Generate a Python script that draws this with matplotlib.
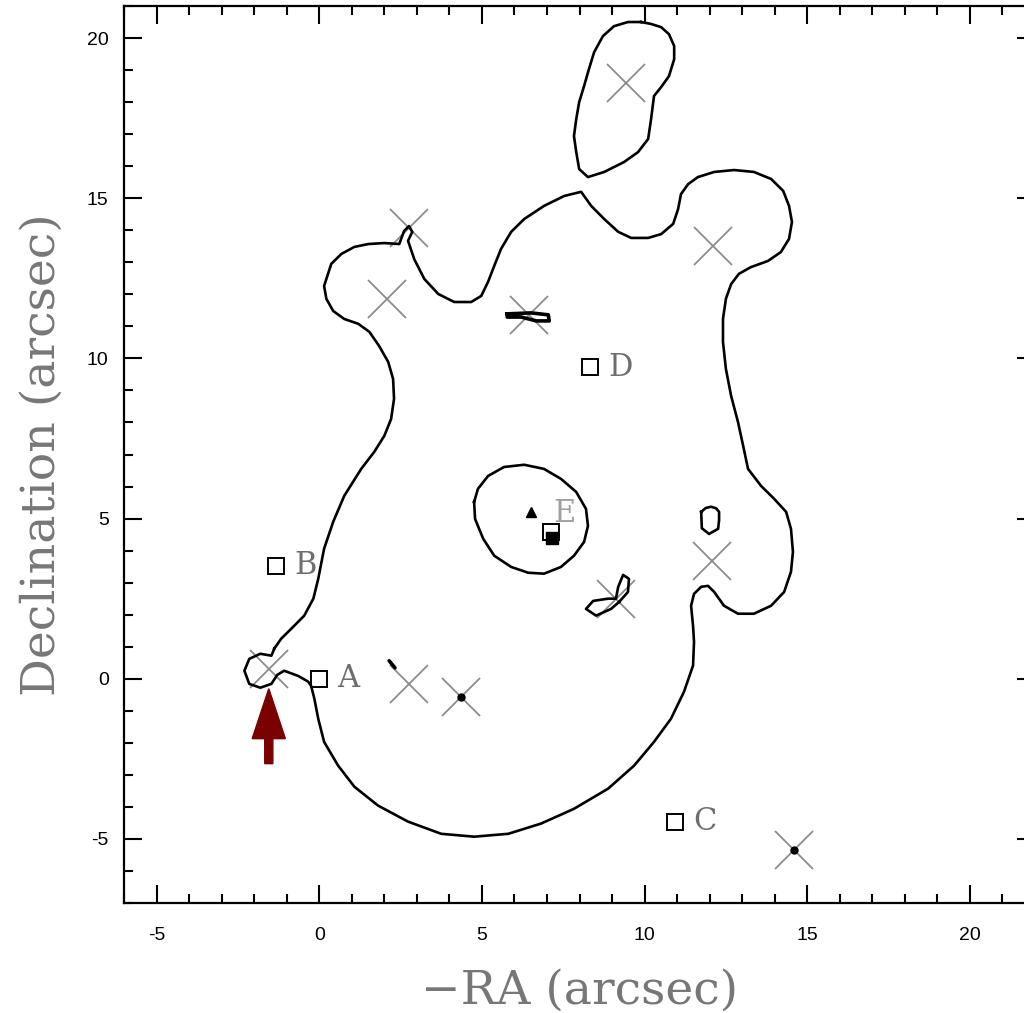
import numpy as np
import matplotlib
matplotlib.use('Agg')
import matplotlib.pyplot as plt
from matplotlib.ticker import MultipleLocator

plt.rcParams['axes.unicode_minus'] = False

# outer contour (arcsec), traced clockwise from the small loop at the arrow
outer = np.array([
    (-1.38, 0.94), (-1.17, 1.25), (-0.86, 1.56), (-0.46, 1.97), (-0.18, 2.50), (-0.03, 3.12),
    (0.15, 4.06), (0.43, 4.90), (0.77, 5.71), (1.29, 6.55), (1.69, 7.08), (2.00, 7.58),
    (2.21, 8.11), (2.30, 8.74), (2.27, 9.36), (2.12, 9.89), (1.84, 10.39), (1.54, 10.83),
    (1.20, 11.08), (0.77, 11.23), (0.43, 11.48), (0.22, 11.86), (0.15, 12.26), (0.37, 12.95),
    (0.68, 13.26), (1.08, 13.48), (1.51, 13.57), (2.00, 13.60), (2.46, 13.57),
    (2.61, 13.98), (2.76, 14.13), (2.86, 13.95), (2.73, 13.67),
    (2.92, 13.10), (3.23, 12.48), (3.66, 12.01), (4.15, 11.76), (4.67, 11.76), (4.98, 11.95),
    (5.19, 12.39), (5.38, 12.89), (5.59, 13.42), (5.90, 13.95), (6.30, 14.35), (6.91, 14.76),
    (7.53, 15.07), (8.05, 15.20), (8.36, 14.76), (8.76, 14.35), (9.19, 13.95), (9.59, 13.76),
    (10.11, 13.76), (10.51, 13.88), (10.88, 14.20), (11.03, 14.66), (11.12, 15.13),
    (11.34, 15.44), (11.64, 15.66),
    (12.14, 15.82), (12.75, 15.88), (13.36, 15.82), (13.89, 15.60), (14.26, 15.23),
    (14.44, 14.76), (14.53, 14.26), (14.44, 13.73), (14.19, 13.32), (13.79, 13.04),
    (13.27, 12.85), (12.90, 12.64), (12.66, 12.32), (12.50, 11.86), (12.41, 11.23),
    (12.41, 10.51), (12.50, 9.67), (12.66, 8.83), (12.87, 8.02), (13.03, 7.27), (13.18, 6.55),
    (13.58, 6.02), (13.98, 5.62), (14.35, 5.21), (14.50, 4.68), (14.56, 3.96), (14.50, 3.34),
    (14.29, 2.71), (13.89, 2.28), (13.36, 2.03), (12.87, 2.03), (12.44, 2.28), (12.14, 2.71),
    (11.95, 2.90), (11.74, 2.87), (11.52, 2.65), (11.43, 2.28), (11.49, 1.65), (11.52, 1.15),
    (11.49, 0.41),
    (11.21, -0.41), (10.81, -1.25), (10.29, -1.97), (9.68, -2.71), (8.88, -3.43), (7.83, -4.06),
    (6.82, -4.52), (5.81, -4.84), (4.76, -4.93), (3.75, -4.84), (2.73, -4.46), (1.81, -3.96),
    (1.08, -3.37), (0.58, -2.71), (0.15, -1.97), (-0.03, -1.25), (-0.15, -0.62),
    (-0.25, -0.22), (-0.34, -0.09), (-0.65, 0.09), (-1.08, 0.25),
    (-1.29, 0.12), (-1.47, -0.16), (-1.81, -0.28), (-2.15, -0.16), (-2.30, 0.25),
    (-2.15, 0.62), (-1.81, 0.78), (-1.47, 0.72), (-1.38, 0.94),
])

# northern island
top_blob = np.array([
    (9.89, 20.50), (9.49, 20.50), (9.06, 20.37), (8.72, 20.06), (8.45, 19.56), (8.29, 19.03),
    (8.14, 18.50), (7.99, 18.00), (7.90, 17.47), (7.83, 16.94), (7.90, 16.44), (7.99, 15.91),
    (8.26, 15.66), (8.76, 15.82), (9.37, 16.13), (9.80, 16.44), (10.11, 16.85), (10.20, 17.47),
    (10.29, 18.19), (10.51, 18.47), (10.75, 18.81), (10.91, 19.34), (10.91, 19.75),
    (10.75, 20.12), (10.51, 20.34), (10.20, 20.44), (9.89, 20.50),
])

# inner ring around E
ring = np.array([
    (4.76, 5.52), (4.88, 5.93), (5.19, 6.33), (5.68, 6.61), (6.30, 6.68), (6.91, 6.55),
    (7.43, 6.24), (7.90, 5.83), (8.20, 5.30), (8.26, 4.77), (8.14, 4.27), (7.83, 3.84),
    (7.43, 3.49), (6.91, 3.28), (6.42, 3.31), (5.90, 3.49), (5.38, 3.84), (5.04, 4.37),
    (4.79, 4.99), (4.76, 5.52),
])

# small loops
blob = np.array([(11.74, 5.21), (11.88, 5.33), (12.04, 5.37), (12.20, 5.32), (12.29, 5.21),
                 (12.29, 4.95), (12.26, 4.68), (11.98, 4.52), (11.76, 4.70), (11.74, 5.21)])
eight = np.array([(9.22, 2.40), (9.49, 2.71), (9.52, 3.12), (9.34, 3.24), (9.19, 2.87),
                  (9.12, 2.50), (8.88, 2.50), (8.42, 2.43), (8.20, 2.18), (8.51, 1.97),
                  (8.97, 2.18), (9.22, 2.40)])
bar = np.array([(5.78, 11.39), (6.51, 11.42), (7.04, 11.36), (7.07, 11.17), (6.67, 11.17),
                (6.21, 11.29), (5.78, 11.29), (5.78, 11.39)])
tail = np.array([(2.15, 0.56), (2.33, 0.34)])

# crosses
cross_x = [9.43, 2.77, 12.10, 2.09, 6.45, 12.07, 9.12, 2.77, 4.36, -1.54, 14.60]
cross_y = [18.60, 14.08, 13.50, 11.84, 11.34, 3.68, 2.49, -0.16, -0.56, 0.31, -5.36]
dot_x = [4.36, 14.60]
dot_y = [-0.56, -5.36]

# labelled sources
src_names = ['A', 'B', 'C', 'D']
src_x = [0.0, -1.32, 10.94, 8.33]
src_y = [0.0, 3.53, -4.46, 9.73]
e_box = (7.11, 4.59)
e_fill = (7.16, 4.40)
e_tri = (6.51, 5.21)
e_label = (7.19, 5.15)

fig = plt.figure(figsize=(10.24, 10.13), dpi=100)
ax = fig.add_axes([124 / 1024, 1 - 903 / 1013, 911 / 1024, 897 / 1013])

for pts in [outer, top_blob, ring, blob, eight]:
    ax.plot(pts[:, 0], pts[:, 1], color='black', lw=1.9, solid_joinstyle='round', zorder=3)
ax.plot(bar[:, 0], bar[:, 1], color='black', lw=2.6, zorder=3)
ax.plot(tail[:, 0], tail[:, 1], color='black', lw=2.6, solid_capstyle='round', zorder=3)

ax.plot(cross_x, cross_y, 'x', color='#8c8c8c', markersize=27, mew=1.3, zorder=2)
ax.plot(dot_x, dot_y, 'o', color='black', markersize=5, zorder=4)

ax.plot(src_x, src_y, 's', mfc='none', mec='black', mew=1.4, markersize=12, zorder=4)
for name, x, y in zip(src_names, src_x, src_y):
    ax.annotate(name, (x, y), xytext=(13, 0), textcoords='offset points', va='center',
                ha='left', fontsize=22, color='#6e6e6e', family='DejaVu Serif')
ax.plot(*e_box, 's', mfc='none', mec='black', mew=1.4, markersize=11, zorder=4)
ax.plot(*e_fill, 's', color='black', markersize=9, zorder=5)
ax.plot(*e_tri, '^', color='black', markersize=7, zorder=5)
ax.text(*e_label, 'E', fontsize=22, color='#a0a0a0', va='center', ha='left',
        family='DejaVu Serif', zorder=3)

# arrow pointing at the loop
ax.arrow(-1.55, -2.65, 0, 2.34, width=0.25, head_width=1.02, head_length=1.56,
         length_includes_head=True, color='#7b0000', zorder=5)

ax.set_xlim(-6, 22)
ax.set_ylim(-7, 21)
ax.xaxis.set_major_locator(MultipleLocator(5))
ax.yaxis.set_major_locator(MultipleLocator(5))
ax.xaxis.set_minor_locator(MultipleLocator(1))
ax.yaxis.set_minor_locator(MultipleLocator(1))
ax.tick_params(which='both', direction='in', top=True, right=True, width=1.5)
ax.tick_params(which='major', length=13)
ax.tick_params(which='minor', length=6.5)
ax.tick_params(axis='x', pad=17)
ax.tick_params(axis='y', pad=11)
for lab in ax.get_xticklabels() + ax.get_yticklabels():
    lab.set_family(['Liberation Sans', 'DejaVu Sans'])
    lab.set_fontsize(14)
for s in ax.spines.values():
    s.set_linewidth(1.6)

ax.set_xlabel('\u2212RA (arcsec)', fontsize=34, color='#777777', family='DejaVu Serif',
              labelpad=18)
ax.set_ylabel('Declination (arcsec)', fontsize=34, color='#777777', family='DejaVu Serif',
              labelpad=16)

plt.savefig('out.png', dpi=100)
